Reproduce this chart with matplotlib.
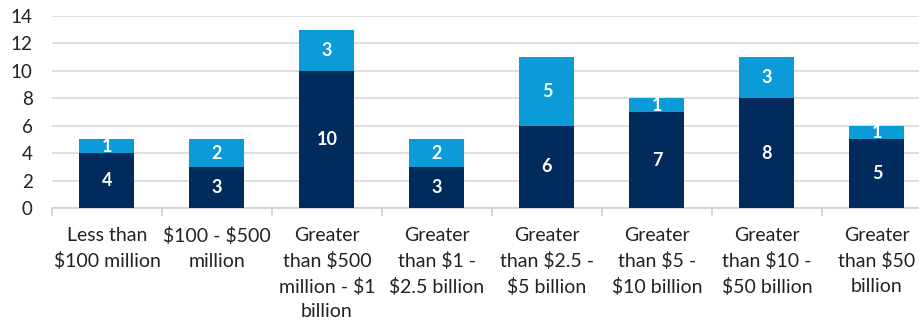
import numpy as np
import matplotlib.pyplot as plt

categories = [
    "Less than\n\\$100 million",
    "\\$100 - \\$500\nmillion",
    "Greater\nthan \\$500\nmillion - \\$1\nbillion",
    "Greater\nthan \\$1 -\n\\$2.5 billion",
    "Greater\nthan \\$2.5 -\n\\$5 billion",
    "Greater\nthan \\$5 -\n\\$10 billion",
    "Greater\nthan \\$10 -\n\\$50 billion",
    "Greater\nthan \\$50\nbillion",
]
bottom_vals = [4, 3, 10, 3, 6, 7, 8, 5]
top_vals = [1, 2, 3, 2, 5, 1, 3, 1]

navy = "#002b5c"
light = "#0a9bd8"

plt.rcParams['font.family'] = ['Lato', 'DejaVu Sans']

fig = plt.figure(figsize=(9.2, 3.24), dpi=100)
ax = fig.add_axes([52 / 920, 1 - 208 / 324, 880 / 920, 192 / 324])

x = np.arange(len(categories))
w = 0.5
ax.bar(x, bottom_vals, width=w, color=navy, zorder=3)
ax.bar(x, top_vals, width=w, bottom=bottom_vals, color=light, zorder=3)

# value labels centred in each segment
for i in range(len(categories)):
    b = bottom_vals[i]
    t = top_vals[i]
    ax.text(x[i], b / 2, str(b), ha='center', va='center', color='white',
            fontsize=13, fontweight='bold', zorder=4)
    ax.text(x[i], b + t / 2, str(t), ha='center', va='center', color='white',
            fontsize=13, fontweight='bold', zorder=4)

ax.set_xlim(-0.5, len(categories) - 0.5)
ax.set_ylim(0, 14)
ax.set_yticks(range(0, 15, 2))
ax.yaxis.grid(True, color='#d9d9d9', linewidth=1.2, zorder=0)
ax.set_axisbelow(True)

for s in ['top', 'right', 'left']:
    ax.spines[s].set_visible(False)
ax.spines['bottom'].set_color('#d0d0d0')
ax.spines['bottom'].set_linewidth(1.2)

ax.set_xticks(x)
ax.set_xticklabels(categories, fontsize=14, color='#222222', linespacing=1.52, va='top')
ax.tick_params(axis='x', length=0, pad=14)
ax.set_xticks(np.arange(len(categories) + 1) - 0.5, minor=True)
ax.tick_params(axis='x', which='minor', length=6, color='#d0d0d0', width=1.2)
ax.tick_params(axis='y', length=0, labelsize=13.5, labelcolor='#222222', pad=14)

plt.savefig('out.png', dpi=100)
